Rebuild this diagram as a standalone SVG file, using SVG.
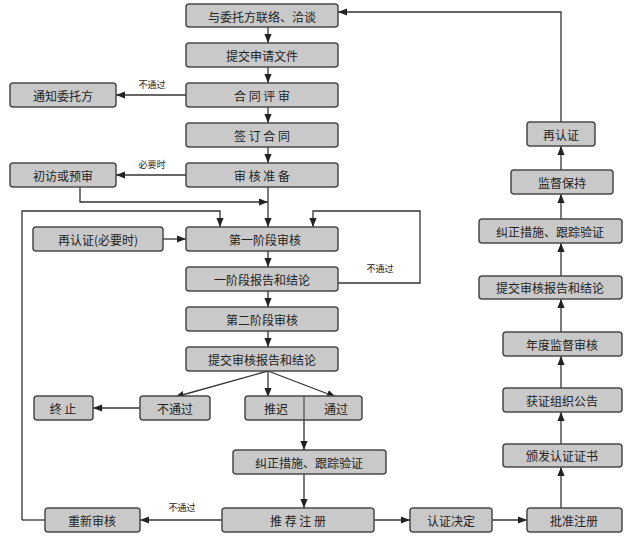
<svg xmlns="http://www.w3.org/2000/svg" width="640" height="539" viewBox="0 0 640 539">
<defs>
<marker id="a" viewBox="0 0 10 10" refX="10" refY="5" markerWidth="7" markerHeight="7" orient="auto"><path d="M0,1 L10,5 L0,9 z" fill="#222"/></marker>
<style>
.n rect{fill:#c9c9c9;stroke:#4a4a4a;stroke-width:1.5}
text{font-family:"Noto Sans CJK SC","Liberation Serif",serif;font-size:12px;fill:#222;text-anchor:middle;dominant-baseline:central}
.s{font-size:9px}
.c path{fill:none;stroke:#333;stroke-width:1.3;marker-end:url(#a)}
.c .p{marker-end:none}
</style>
</defs>
<rect width="640" height="539" fill="#fff"/>
<g class="c">
<path d="M268,27V43"/><path d="M268,67V83"/><path d="M268,107V123"/><path d="M268,147V163"/>
<path d="M186,95H116"/><path d="M186,175H116"/>
<path d="M268,187V227"/><path d="M80,187V202H268"/>
<path d="M163,239H186"/>
<path d="M22,520V211H220V227"/><path d="M45,520H22" class="p"/>
<path d="M338,283H420V211H313V227"/>
<path d="M268,251V267"/><path d="M268,291V307"/><path d="M268,331V347"/>
<path d="M268,371L175,397"/><path d="M268,371V397"/><path d="M268,371L336,397"/>
<path d="M140,408H93"/>
<path d="M304,397V450"/><path d="M304,474V508"/>
<path d="M222,520H140"/><path d="M374,520H410"/><path d="M492,520H527"/>
<path d="M561,508V467"/><path d="M561,444V412"/><path d="M561,388V356"/><path d="M561,332V299"/><path d="M561,276V243"/><path d="M561,219V194"/><path d="M561,170V146"/>
<path d="M561,122V12H338"/>
</g>
<text x="152" y="84" class="s">不通过</text>
<text x="152" y="164" class="s">必要时</text>
<text x="380" y="268" class="s">不通过</text>
<text x="182" y="507" class="s">不通过</text>
<g class="n" id="n1"><rect x="186" y="4" width="152" height="23" rx="3"/><text x="262" y="16">与委托方联络、洽谈</text></g>
<g class="n" id="n2"><rect x="186" y="43" width="152" height="24" rx="3"/><text x="262" y="55">提交申请文件</text></g>
<g class="n" id="n3"><rect x="186" y="83" width="152" height="24" rx="3"/><text x="262" y="95">合 同 评 审</text></g>
<g class="n" id="n4"><rect x="10" y="83" width="106" height="24" rx="3"/><text x="63" y="95">通知委托方</text></g>
<g class="n" id="n5"><rect x="186" y="123" width="152" height="24" rx="3"/><text x="262" y="135">签 订 合 同</text></g>
<g class="n" id="n6"><rect x="186" y="163" width="152" height="24" rx="3"/><text x="262" y="175">审 核 准 备</text></g>
<g class="n" id="n7"><rect x="10" y="163" width="106" height="24" rx="3"/><text x="63" y="175">初访或预审</text></g>
<g class="n" id="n8"><rect x="33" y="227" width="130" height="24" rx="3"/><text x="98" y="239">再认证(必要时)</text></g>
<g class="n" id="n9"><rect x="186" y="227" width="152" height="24" rx="3"/><text x="265" y="239">第一阶段审核</text></g>
<g class="n" id="n10"><rect x="186" y="267" width="152" height="24" rx="3"/><text x="262" y="279">一阶段报告和结论</text></g>
<g class="n" id="n11"><rect x="186" y="307" width="152" height="24" rx="3"/><text x="262" y="319">第二阶段审核</text></g>
<g class="n" id="n12"><rect x="186" y="347" width="152" height="24" rx="3"/><text x="262" y="359">提交审核报告和结论</text></g>
<g class="n" id="n13"><rect x="34" y="396" width="59" height="24" rx="3"/><text x="63" y="408">终 止</text></g>
<g class="n" id="n14"><rect x="140" y="396" width="70" height="24" rx="3"/><text x="175" y="408">不通过</text></g>
<g class="n" id="n15"><rect x="245" y="396" width="117" height="24" rx="3"/><path d="M304,396V420" stroke="#333" stroke-width="1"/><text x="276" y="408">推迟</text><text x="336" y="408">通过</text></g>
<g class="n" id="n16"><rect x="233" y="450" width="153" height="24" rx="3"/><text x="309" y="462">纠正措施、跟踪验证</text></g>
<g class="n" id="n17"><rect x="45" y="508" width="95" height="24" rx="3"/><text x="92" y="520">重新审核</text></g>
<g class="n" id="n18"><rect x="222" y="508" width="152" height="24" rx="3"/><text x="298" y="520">推 荐 注 册</text></g>
<g class="n" id="n19"><rect x="410" y="508" width="82" height="24" rx="3"/><text x="451" y="520">认证决定</text></g>
<g class="n" id="n20"><rect x="527" y="508" width="95" height="24" rx="3"/><text x="574" y="520">批准注册</text></g>
<g class="n" id="n21"><rect x="503" y="444" width="119" height="23" rx="3"/><text x="562" y="455">颁发认证证书</text></g>
<g class="n" id="n22"><rect x="503" y="388" width="119" height="24" rx="3"/><text x="562" y="400">获证组织公告</text></g>
<g class="n" id="n23"><rect x="503" y="332" width="119" height="24" rx="3"/><text x="562" y="344">年度监督审核</text></g>
<g class="n" id="n24"><rect x="479" y="276" width="143" height="23" rx="3"/><text x="550" y="287">提交审核报告和结论</text></g>
<g class="n" id="n25"><rect x="479" y="219" width="143" height="24" rx="3"/><text x="550" y="231">纠正措施、跟踪验证</text></g>
<g class="n" id="n26"><rect x="511" y="170" width="102" height="24" rx="3"/><text x="562" y="182">监督保持</text></g>
<g class="n" id="n27"><rect x="527" y="122" width="68" height="24" rx="3"/><text x="561" y="134">再认证</text></g>
</svg>
